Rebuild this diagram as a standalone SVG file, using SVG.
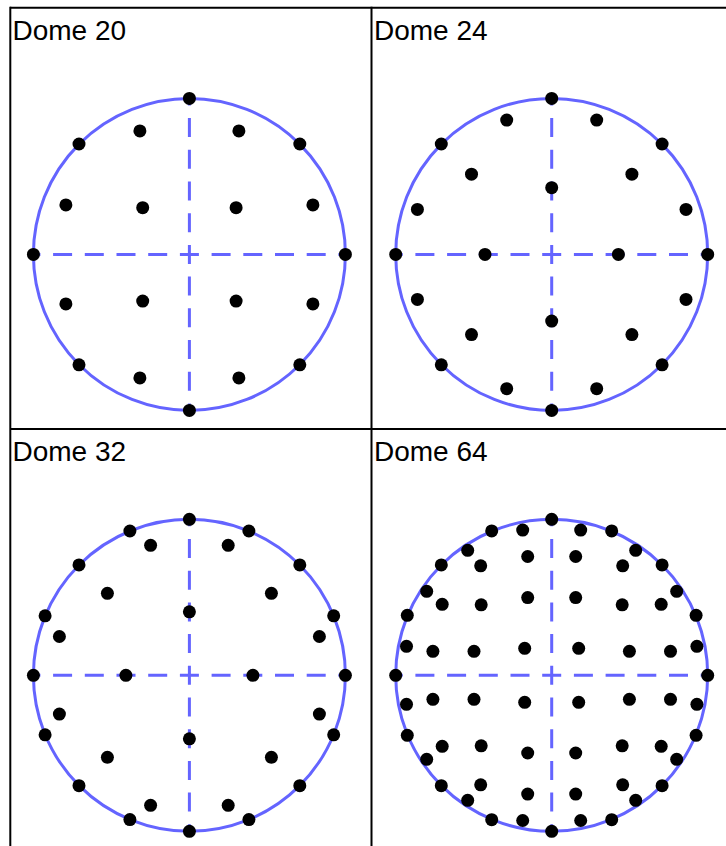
<svg xmlns="http://www.w3.org/2000/svg" width="726" height="846" viewBox="0 0 726 846">
<style>
.grid{stroke:#000;stroke-width:2;fill:none}
.ring{fill:none;stroke:#6464ff;stroke-width:3}
.axis{stroke:#6464ff;stroke-width:3;stroke-dasharray:19 12.7;stroke-dashoffset:12;fill:none}
.dot{fill:#000}
.lbl{font-family:"Liberation Sans",Arial,sans-serif;font-size:28px;fill:#000}
</style>
<defs>
<g id="frame">
<circle class="ring" cx="0" cy="0" r="156"/>
<line class="axis" x1="-156" y1="0" x2="156" y2="0"/>
<line class="axis" x1="0" y1="-156" x2="0" y2="156"/>
</g>
</defs>
<rect width="726" height="846" fill="#fff"/>
<g id="table">
<line class="grid" x1="10" y1="7.7" x2="726" y2="7.7"/>
<line class="grid" x1="10" y1="429" x2="726" y2="429"/>
<line class="grid" x1="10.3" y1="6.7" x2="10.3" y2="846"/>
<line class="grid" x1="371.5" y1="6.7" x2="371.5" y2="846"/>
</g>
<g id="connectors"></g>
<g id="panel-dome20">
<text class="lbl" x="12.5" y="40">Dome 20</text>
<g transform="translate(189.4,254.4)">
<use href="#frame"/>
<g class="dot">
<circle cx="0" cy="-156" r="6.5"/><circle cx="0" cy="156" r="6.5"/><circle cx="-156" cy="0" r="6.5"/><circle cx="156" cy="0" r="6.5"/>
<circle cx="-110.4" cy="-110.4" r="6.5"/><circle cx="110.4" cy="-110.4" r="6.5"/><circle cx="-110.4" cy="110.4" r="6.5"/><circle cx="110.4" cy="110.4" r="6.5"/>
<circle cx="-49.5" cy="-123.5" r="6.5"/><circle cx="49.5" cy="-123.5" r="6.5"/><circle cx="-49.5" cy="123.5" r="6.5"/><circle cx="49.5" cy="123.5" r="6.5"/>
<circle cx="-123.5" cy="-49.5" r="6.5"/><circle cx="123.5" cy="-49.5" r="6.5"/><circle cx="-123.5" cy="49.5" r="6.5"/><circle cx="123.5" cy="49.5" r="6.5"/>
<circle cx="-46.7" cy="-46.7" r="6.5"/><circle cx="46.7" cy="-46.7" r="6.5"/><circle cx="-46.7" cy="46.7" r="6.5"/><circle cx="46.7" cy="46.7" r="6.5"/>
</g>
</g>
</g>
<g id="panel-dome24">
<text class="lbl" x="374" y="40">Dome 24</text>
<g transform="translate(551.7,254.4)">
<use href="#frame"/>
<g class="dot">
<circle cx="0" cy="-156" r="6.5"/><circle cx="0" cy="156" r="6.5"/><circle cx="-156" cy="0" r="6.5"/><circle cx="156" cy="0" r="6.5"/>
<circle cx="0" cy="-66.7" r="6.5"/><circle cx="0" cy="66.7" r="6.5"/><circle cx="-66.7" cy="0" r="6.5"/><circle cx="66.7" cy="0" r="6.5"/>
<circle cx="-110.4" cy="-110.4" r="6.5"/><circle cx="110.4" cy="-110.4" r="6.5"/><circle cx="-110.4" cy="110.4" r="6.5"/><circle cx="110.4" cy="110.4" r="6.5"/>
<circle cx="-80.2" cy="-80.2" r="6.5"/><circle cx="80.2" cy="-80.2" r="6.5"/><circle cx="-80.2" cy="80.2" r="6.5"/><circle cx="80.2" cy="80.2" r="6.5"/>
<circle cx="-45" cy="-134.3" r="6.5"/><circle cx="45" cy="-134.3" r="6.5"/><circle cx="-45" cy="134.3" r="6.5"/><circle cx="45" cy="134.3" r="6.5"/>
<circle cx="-134.3" cy="-45" r="6.5"/><circle cx="134.3" cy="-45" r="6.5"/><circle cx="-134.3" cy="45" r="6.5"/><circle cx="134.3" cy="45" r="6.5"/>
</g>
</g>
</g>
<g id="panel-dome32">
<text class="lbl" x="12.5" y="461">Dome 32</text>
<g transform="translate(189.4,675.3)">
<use href="#frame"/>
<g class="dot">
<circle cx="0" cy="-156" r="6.5"/><circle cx="0" cy="156" r="6.5"/><circle cx="-156" cy="0" r="6.5"/><circle cx="156" cy="0" r="6.5"/>
<circle cx="0" cy="-63.5" r="6.5"/><circle cx="0" cy="63.5" r="6.5"/><circle cx="-63.5" cy="0" r="6.5"/><circle cx="63.5" cy="0" r="6.5"/>
<circle cx="-110.4" cy="-110.4" r="6.5"/><circle cx="110.4" cy="-110.4" r="6.5"/><circle cx="-110.4" cy="110.4" r="6.5"/><circle cx="110.4" cy="110.4" r="6.5"/>
<circle cx="-82" cy="-82" r="6.5"/><circle cx="82" cy="-82" r="6.5"/><circle cx="-82" cy="82" r="6.5"/><circle cx="82" cy="82" r="6.5"/>
<circle cx="-59.5" cy="-144.3" r="6.5"/><circle cx="59.5" cy="-144.3" r="6.5"/><circle cx="-59.5" cy="144.3" r="6.5"/><circle cx="59.5" cy="144.3" r="6.5"/>
<circle cx="-144.3" cy="-59.5" r="6.5"/><circle cx="144.3" cy="-59.5" r="6.5"/><circle cx="-144.3" cy="59.5" r="6.5"/><circle cx="144.3" cy="59.5" r="6.5"/>
<circle cx="-38.8" cy="-130" r="6.5"/><circle cx="38.8" cy="-130" r="6.5"/><circle cx="-38.8" cy="130" r="6.5"/><circle cx="38.8" cy="130" r="6.5"/>
<circle cx="-130" cy="-38.8" r="6.5"/><circle cx="130" cy="-38.8" r="6.5"/><circle cx="-130" cy="38.8" r="6.5"/><circle cx="130" cy="38.8" r="6.5"/>
</g>
</g>
</g>
<g id="panel-dome64">
<text class="lbl" x="374" y="461">Dome 64</text>
<g transform="translate(551.7,675.3)">
<use href="#frame"/>
<g class="dot">
<circle cx="0" cy="-156" r="6.5"/><circle cx="0" cy="156" r="6.5"/><circle cx="-156" cy="0" r="6.5"/><circle cx="156" cy="0" r="6.5"/>
<circle cx="-29" cy="-145.2" r="6.5"/><circle cx="29" cy="-145.2" r="6.5"/><circle cx="-29" cy="145.2" r="6.5"/><circle cx="29" cy="145.2" r="6.5"/>
<circle cx="-145.2" cy="-29" r="6.5"/><circle cx="145.2" cy="-29" r="6.5"/><circle cx="-145.2" cy="29" r="6.5"/><circle cx="145.2" cy="29" r="6.5"/>
<circle cx="-60" cy="-144.4" r="6.5"/><circle cx="60" cy="-144.4" r="6.5"/><circle cx="-60" cy="144.4" r="6.5"/><circle cx="60" cy="144.4" r="6.5"/>
<circle cx="-144.4" cy="-60" r="6.5"/><circle cx="144.4" cy="-60" r="6.5"/><circle cx="-144.4" cy="60" r="6.5"/><circle cx="144.4" cy="60" r="6.5"/>
<circle cx="-84" cy="-125" r="6.5"/><circle cx="84" cy="-125" r="6.5"/><circle cx="-84" cy="125" r="6.5"/><circle cx="84" cy="125" r="6.5"/>
<circle cx="-125" cy="-84" r="6.5"/><circle cx="125" cy="-84" r="6.5"/><circle cx="-125" cy="84" r="6.5"/><circle cx="125" cy="84" r="6.5"/>
<circle cx="-24" cy="-118.8" r="6.5"/><circle cx="24" cy="-118.8" r="6.5"/><circle cx="-24" cy="118.8" r="6.5"/><circle cx="24" cy="118.8" r="6.5"/>
<circle cx="-118.8" cy="-24" r="6.5"/><circle cx="118.8" cy="-24" r="6.5"/><circle cx="-118.8" cy="24" r="6.5"/><circle cx="118.8" cy="24" r="6.5"/>
<circle cx="-71" cy="-109.5" r="6.5"/><circle cx="71" cy="-109.5" r="6.5"/><circle cx="-71" cy="109.5" r="6.5"/><circle cx="71" cy="109.5" r="6.5"/>
<circle cx="-109.5" cy="-71" r="6.5"/><circle cx="109.5" cy="-71" r="6.5"/><circle cx="-109.5" cy="71" r="6.5"/><circle cx="109.5" cy="71" r="6.5"/>
<circle cx="-24" cy="-77.7" r="6.5"/><circle cx="24" cy="-77.7" r="6.5"/><circle cx="-24" cy="77.7" r="6.5"/><circle cx="24" cy="77.7" r="6.5"/>
<circle cx="-77.7" cy="-24" r="6.5"/><circle cx="77.7" cy="-24" r="6.5"/><circle cx="-77.7" cy="24" r="6.5"/><circle cx="77.7" cy="24" r="6.5"/>
<circle cx="-110.4" cy="-110.4" r="6.5"/><circle cx="110.4" cy="-110.4" r="6.5"/><circle cx="-110.4" cy="110.4" r="6.5"/><circle cx="110.4" cy="110.4" r="6.5"/>
<circle cx="-70.5" cy="-70.5" r="6.5"/><circle cx="70.5" cy="-70.5" r="6.5"/><circle cx="-70.5" cy="70.5" r="6.5"/><circle cx="70.5" cy="70.5" r="6.5"/>
<circle cx="-27" cy="-27" r="6.5"/><circle cx="27" cy="-27" r="6.5"/><circle cx="-27" cy="27" r="6.5"/><circle cx="27" cy="27" r="6.5"/>
</g>
</g>
</g>
</svg>
